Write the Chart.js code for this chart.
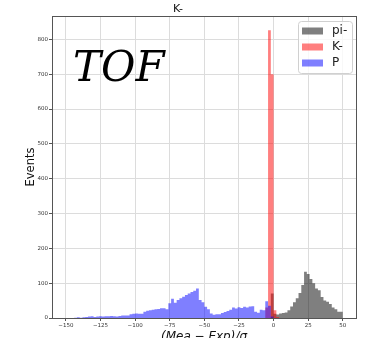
<!DOCTYPE html>
<html>
<head>
<meta charset="utf-8">
<script src="https://cdn.jsdelivr.net/npm/chart.js@4.4.1/dist/chart.umd.min.js"></script>
<style>
  body { margin: 0; background: #fff; }
  #wrap { width: 371px; height: 338px; }
</style>
</head>
<body>
<div id="wrap"><canvas id="tofChart"></canvas></div>
<script>
// histogram bins (centres), width 2
const binWidth = 2;
const binCenters = [
  -149, -147, -145, -143, -141, -139, -137, -135, -133, -131,
  -129, -127, -125, -123, -121, -119, -117, -115, -113, -111,
  -109, -107, -105, -103, -101, -99, -97, -95, -93, -91,
  -89, -87, -85, -83, -81, -79, -77, -75, -73, -71,
  -69, -67, -65, -63, -61, -59, -57, -55, -53, -51,
  -49, -47, -45, -43, -41, -39, -37, -35, -33, -31,
  -29, -27, -25, -23, -21, -19, -17, -15, -13, -11,
  -9, -7, -5, -3, -1, 1, 3, 5, 7, 9,
  11, 13, 15, 17, 19, 21, 23, 25, 27, 29,
  31, 33, 35, 37, 39, 41, 43, 45, 47, 49
];

const piCounts = [
  0, 0, 0, 0, 0, 0, 0, 0, 0, 0,
  0, 0, 0, 0, 0, 0, 0, 0, 0, 0,
  0, 0, 0, 0, 0, 0, 0, 0, 0, 0,
  0, 0, 0, 0, 0, 0, 0, 0, 0, 0,
  0, 0, 0, 0, 0, 0, 0, 0, 0, 0,
  0, 0, 0, 0, 0, 0, 0, 0, 0, 0,
  0, 0, 0, 0, 0, 0, 0, 0, 0, 0,
  0, 0, 0, 0, 0, 70, 12, 10, 13, 14,
  16, 22, 33, 45, 57, 72, 95, 133, 126, 112,
  100, 85, 80, 60, 50, 47, 40, 30, 25, 18
];

const kCounts = [
  0, 0, 0, 0, 0, 0, 0, 0, 0, 0,
  0, 0, 0, 0, 0, 0, 0, 0, 0, 0,
  0, 0, 0, 0, 0, 0, 0, 0, 0, 0,
  0, 0, 0, 0, 0, 0, 0, 0, 0, 0,
  0, 0, 0, 0, 0, 0, 0, 0, 0, 0,
  0, 0, 0, 0, 0, 0, 0, 0, 0, 0,
  0, 0, 0, 0, 0, 0, 0, 0, 0, 0,
  0, 0, 0, 30, 826, 700, 22, 3, 0, 0,
  0, 0, 0, 0, 0, 0, 0, 0, 0, 0,
  0, 0, 0, 0, 0, 0, 0, 0, 0, 0
];

const pCounts = [
  0, 0, 0, 0, 1, 2, 1, 2, 3, 4,
  5, 3, 4, 5, 4, 5, 5, 6, 5, 4,
  6, 7, 7, 7, 11, 12, 13, 12, 12, 18,
  21, 22, 24, 25, 26, 28, 28, 25, 42, 55,
  44, 52, 57, 61, 66, 70, 75, 78, 85, 52,
  45, 32, 25, 13, 9, 11, 11, 14, 17, 20,
  24, 30, 27, 31, 29, 32, 30, 33, 34, 18,
  15, 24, 22, 48, 35, 4, 0, 0, 0, 0,
  0, 0, 0, 0, 0, 0, 0, 0, 0, 0,
  0, 0, 0, 0, 0, 0, 0, 0, 0, 0
];

const seriesLabels = ["pi-", "K-", "P"];
const xTicks = [-150, -125, -100, -75, -50, -25, 0, 25, 50];
const yTicks = [0, 100, 200, 300, 400, 500, 600, 700, 800];

const colors = {
  "pi-": "rgba(0, 0, 0, 0.5)",
  "K-": "rgba(255, 0, 0, 0.5)",
  "P": "rgba(0, 0, 255, 0.5)",
};

// one point per bin left edge, plus the closing right edge (stepped 'after')
function toSteps(counts) {
  const pts = binCenters.map((c, i) => ({ x: c - binWidth / 2, y: counts[i] }));
  const last = binCenters.length - 1;
  pts.push({ x: binCenters[last] + binWidth / 2, y: counts[last] });
  return pts;
}

function histSet(label, counts, order) {
  return {
    label: label,
    data: toSteps(counts),
    stepped: "after",
    fill: "origin",
    backgroundColor: colors[label],
    borderColor: "rgba(0,0,0,0)",
    borderWidth: 0,
    pointRadius: 0,
    order: order,
  };
}

// frame, legend box and the big TOF text
const extras = {
  id: "extras",
  afterDraw(chart) {
    const ctx = chart.ctx;
    const a = chart.chartArea;
    ctx.save();
    ctx.strokeStyle = "#555";
    ctx.lineWidth = 1;
    ctx.strokeRect(Math.round(a.left) + 0.5, Math.round(a.top) + 0.5,
      Math.round(a.right - a.left), Math.round(a.bottom - a.top));

    ctx.fillStyle = "#000";
    ctx.font = 'italic 42px "DejaVu Serif"';
    ctx.textBaseline = "alphabetic";
    ctx.fillText("TOF", 73, 81);

    // legend
    const bx = 298, by = 21, bw = 54, bh = 52;
    ctx.fillStyle = "rgba(255,255,255,0.8)";
    ctx.strokeStyle = "#d0d0d0";
    ctx.beginPath();
    ctx.roundRect(bx + 0.5, by + 0.5, bw, bh, 3);
    ctx.fill();
    ctx.stroke();
    ctx.font = '12px "DejaVu Sans"';
    ctx.textBaseline = "middle";
    seriesLabels.forEach((lab, i) => {
      const cy = 31 + i * 16;
      ctx.fillStyle = colors[lab];
      ctx.fillRect(302, cy - 3.5, 21, 7);
      ctx.fillStyle = "#222";
      ctx.fillText(lab, 332, cy);
    });
    ctx.restore();
  },
};

const ctx = document.getElementById("tofChart").getContext("2d");
const chart = new Chart(ctx, {
  type: "line",
  data: {
    datasets: [
      histSet("pi-", piCounts, 3),
      histSet("K-", kCounts, 2),
      histSet("P", pCounts, 1),
    ],
  },
  options: {
    responsive: true,
    maintainAspectRatio: false,
    animation: false,
    layout: { padding: { top: 0, right: 15, bottom: 0, left: 0 } },
    plugins: {
      legend: { display: false },
      tooltip: { enabled: false },
      title: {
        display: true,
        text: "K-",
        color: "#111",
        font: { family: "DejaVu Sans", size: 11, weight: "normal" },
        padding: { top: 2.4, bottom: 0.4 },
      },
    },
    scales: {
      x: {
        type: "linear",
        offset: false,
        min: -160,
        max: 59.5,
        afterBuildTicks: (scale) => {
          scale.ticks = xTicks.map((v) => ({ value: v }));
        },
        afterFit: (scale) => {
          scale.height = 20;
        },
        ticks: {
          autoSkip: false,
          maxRotation: 0,
          padding: 1,
          color: "#333",
          font: { family: "DejaVu Sans", size: 5.5 },
          callback: (v) => String(v).replace("-", "\u2212"),
        },
        grid: { color: "#dcdcdc", tickColor: "#555", tickLength: 3 },
        border: { color: "#555" },
        title: {
          display: true,
          text: "(Mea \u2212 Exp)/\u03c3",
          color: "#111",
          font: { family: "DejaVu Sans", size: 12, style: "italic" },
          padding: { top: 0, bottom: -6 },
        },
      },
      y: {
        min: 0,
        max: 867,
        afterBuildTicks: (scale) => {
          scale.ticks = yTicks.map((v) => ({ value: v }));
        },
        afterFit: (scale) => {
          scale.width = 52;
        },
        ticks: {
          padding: 1,
          color: "#333",
          font: { family: "DejaVu Sans", size: 5.5 },
        },
        grid: { color: "#dcdcdc", tickColor: "#555", tickLength: 3 },
        border: { color: "#555" },
        title: {
          display: true,
          text: "Events",
          color: "#111",
          font: { family: "DejaVu Sans", size: 11.5 },
          padding: { top: 24, bottom: 0 },
        },
      },
    },
  },
  plugins: [extras],
});
</script>
</body>
</html>
